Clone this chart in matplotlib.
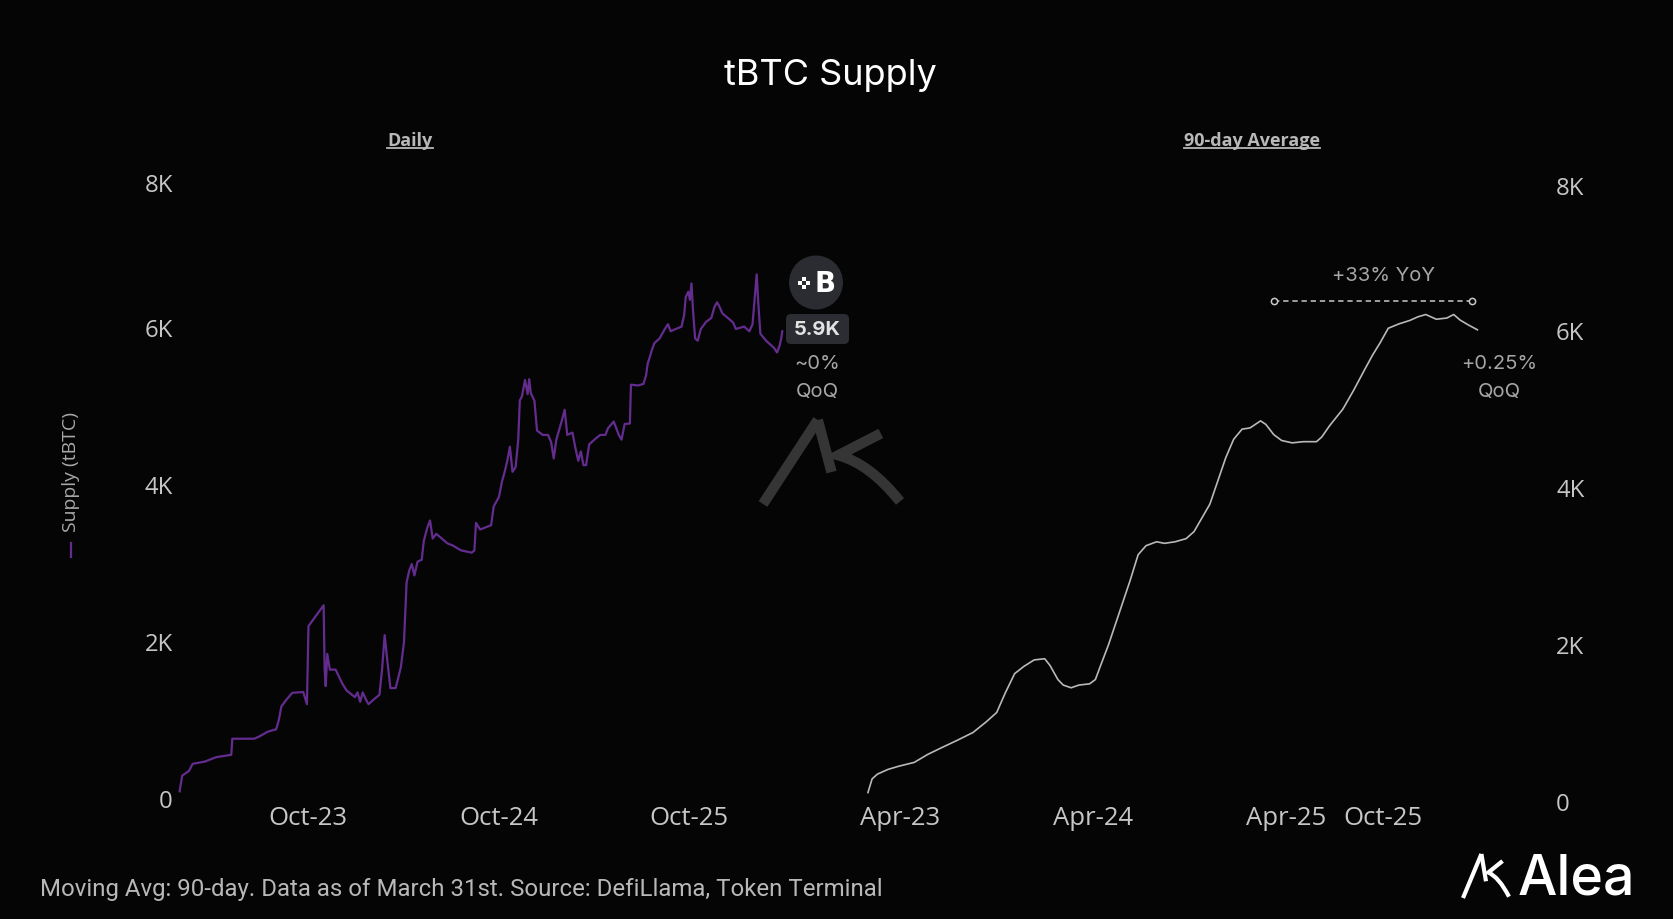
import matplotlib
matplotlib.use("Agg")
import matplotlib.pyplot as plt
from matplotlib.lines import Line2D
from matplotlib.patches import Circle, FancyBboxPatch, PathPatch, Rectangle
from matplotlib.path import Path
from matplotlib.transforms import IdentityTransform, ScaledTranslation
import pandas as pd

W, H, DPI = 1674, 920, 100
BG = "#050505"
PURPLE = "#632c8e"
GRAY_LINE = "#b9b9b9"
TICK = "#c6c6c6"
ANN = "#a6a6a6"

# ---------------- data ----------------
daily_dates = [
    "2023-01-29", "2023-02-03", "2023-02-16", "2023-02-23", "2023-03-19", "2023-04-09",
    "2023-05-08", "2023-05-10", "2023-06-21", "2023-07-01", "2023-07-17", "2023-08-02",
    "2023-08-07", "2023-08-12", "2023-08-22", "2023-09-02", "2023-09-23", "2023-09-30",
    "2023-10-03", "2023-10-19", "2023-11-01", "2023-11-03", "2023-11-05", "2023-11-08",
    "2023-11-13", "2023-11-24", "2023-12-07", "2023-12-15", "2023-12-31", "2024-01-05",
    "2024-01-10", "2024-01-15", "2024-01-21", "2024-01-26", "2024-02-05", "2024-02-16",
    "2024-02-21", "2024-02-26", "2024-03-02", "2024-03-08", "2024-03-18", "2024-03-28",
    "2024-04-03", "2024-04-08", "2024-04-13", "2024-04-18", "2024-04-23", "2024-04-29",
    "2024-05-07", "2024-05-11", "2024-05-18", "2024-05-23", "2024-05-28", "2024-06-04",
    "2024-06-25", "2024-07-06", "2024-07-21", "2024-08-11", "2024-08-16", "2024-08-19",
    "2024-08-27", "2024-09-17", "2024-09-22", "2024-10-02", "2024-10-08", "2024-10-13",
    "2024-10-18", "2024-10-23", "2024-10-28", "2024-11-03", "2024-11-08", "2024-11-11",
    "2024-11-15", "2024-11-21", "2024-11-26", "2024-11-29", "2024-12-02", "2024-12-09",
    "2024-12-14", "2024-12-25", "2025-01-04", "2025-01-10", "2025-01-15", "2025-01-20",
    "2025-01-25", "2025-01-30", "2025-02-05", "2025-02-10", "2025-02-20", "2025-02-25",
    "2025-03-03", "2025-03-08", "2025-03-13", "2025-03-18", "2025-03-24", "2025-04-03",
    "2025-04-14", "2025-04-24", "2025-04-29", "2025-05-10", "2025-05-20", "2025-05-25",
    "2025-05-31", "2025-06-10", "2025-06-12", "2025-06-26", "2025-07-06", "2025-07-11",
    "2025-07-14", "2025-07-18", "2025-07-22", "2025-07-27", "2025-08-06", "2025-08-16",
    "2025-08-22", "2025-08-27", "2025-09-06", "2025-09-17", "2025-09-22", "2025-09-25",
    "2025-09-30", "2025-10-03", "2025-10-06", "2025-10-09", "2025-10-13", "2025-10-18",
    "2025-10-24", "2025-11-03", "2025-11-13", "2025-11-19", "2025-11-24", "2025-11-29",
    "2025-12-04", "2025-12-20", "2025-12-25", "2025-12-30", "2026-01-15", "2026-01-25",
    "2026-01-31", "2026-02-05", "2026-02-08", "2026-02-11", "2026-02-15", "2026-02-26",
    "2026-03-08", "2026-03-13", "2026-03-19", "2026-03-24", "2026-03-27", "2026-03-29",
]
daily_supply = [
    80, 280, 340, 430, 460, 515,
    545, 750, 750, 780, 840, 870,
    985, 1160, 1250, 1335, 1345, 1190,
    2185, 2330, 2450, 1630, 1420, 1830,
    1630, 1630, 1450, 1365, 1280, 1340,
    1220, 1340, 1250, 1190, 1250, 1310,
    1630, 2070, 1750, 1395, 1395, 1660,
    1980, 2740, 2890, 2975, 2830, 3005,
    3030, 3270, 3445, 3530, 3300, 3360,
    3240, 3210, 3150, 3120, 3150, 3500,
    3415, 3470, 3710, 3830, 4030, 4150,
    4290, 4470, 4150, 4210, 4560, 5060,
    5110, 5320, 5140, 5330, 5155, 5056,
    4675, 4620, 4620, 4530, 4320, 4560,
    4675, 4790, 4940, 4620, 4650, 4470,
    4290, 4410, 4235, 4235, 4500, 4560,
    4620, 4620, 4705, 4790, 4615, 4560,
    4760, 4765, 5260, 5250, 5270, 5380,
    5525, 5610, 5700, 5790, 5850, 5970,
    6030, 5940, 5970, 6000, 6150, 6375,
    6445, 6340, 6550, 6200, 5850, 5820,
    5970, 6060, 6110, 6250, 6310, 6250,
    6170, 6080, 6050, 5970, 6000, 5940,
    6030, 6430, 6665, 6310, 5910, 5820,
    5760, 5730, 5670, 5760, 5850, 5940,
]

avg_dates = [
    "2023-01-30", "2023-02-07", "2023-02-17", "2023-03-09", "2023-03-29", "2023-04-28",
    "2023-05-23", "2023-06-18", "2023-07-18", "2023-08-17", "2023-09-11", "2023-10-01",
    "2023-10-17", "2023-11-04", "2023-11-21", "2023-12-11", "2023-12-31", "2024-01-10",
    "2024-01-25", "2024-02-04", "2024-02-19", "2024-03-05", "2024-03-25", "2024-04-05",
    "2024-04-15", "2024-04-30", "2024-05-13", "2024-05-25", "2024-06-10", "2024-06-25",
    "2024-07-10", "2024-07-30", "2024-08-14", "2024-09-03", "2024-09-24", "2024-10-09",
    "2024-10-24", "2024-11-08", "2024-11-23", "2024-12-08", "2024-12-23", "2025-01-08",
    "2025-01-23", "2025-02-12", "2025-02-22", "2025-03-09", "2025-03-24", "2025-04-13",
    "2025-05-04", "2025-05-29", "2025-06-08", "2025-06-23", "2025-07-18", "2025-08-07",
    "2025-08-28", "2025-09-12", "2025-09-27", "2025-10-12", "2025-11-01", "2025-11-22",
    "2025-12-07", "2025-12-22", "2026-01-11", "2026-01-31", "2026-02-13", "2026-02-25",
    "2026-03-12", "2026-03-30",
]
avg_supply = [
    105, 280, 340, 400, 440, 490,
    590, 675, 770, 870, 1005, 1125,
    1370, 1620, 1710, 1795, 1810, 1725,
    1545, 1475, 1440, 1475, 1490, 1545,
    1725, 1990, 2250, 2490, 2810, 3135,
    3250, 3300, 3280, 3300, 3340, 3430,
    3605, 3780, 4075, 4370, 4605, 4735,
    4750, 4840, 4795, 4665, 4590, 4560,
    4575, 4575, 4635, 4780, 4990, 5225,
    5490, 5675, 5840, 6020, 6075, 6120,
    6165, 6195, 6135, 6150, 6195, 6125,
    6065, 6000,
]

yoy_span = ["2025-03-10", "2026-03-20"]
yoy_level = 6370

left_ticks = ["2023-10-01", "2024-10-01", "2025-10-01"]
left_tick_labels = ["Oct-23", "Oct-24", "Oct-25"]
right_ticks = ["2023-04-01", "2024-04-01", "2025-04-01", "2025-10-01"]
right_tick_labels = ["Apr-23", "Apr-24", "Apr-25", "Oct-25"]
y_ticks = [0, 2000, 4000, 6000, 8000]
y_tick_labels = ["0", "2K", "4K", "6K", "8K"]

title = "tBTC Supply"
left_subtitle = "Daily"
right_subtitle = "90-day Average"
y_label = "Supply (tBTC)"
daily_badge = "5.9K"
daily_change = ["~0%", "QoQ"]
avg_change = ["+0.25%", "QoQ"]
yoy_text = "+33% YoY"
footer = "Moving Avg: 90-day. Data as of March 31st. Source: DefiLlama, Token Terminal"
brand = "Alea"

# ---------------- figure ----------------
plt.rcParams["font.family"] = ["Open Sans", "DejaVu Sans"]
fig = plt.figure(figsize=(W / DPI, H / DPI), dpi=DPI, facecolor=BG)
ID = IdentityTransform()


def add_axes_px(x0, y0, x1, y1):
    return fig.add_axes([x0 / W, 1 - y1 / H, (x1 - x0) / W, (y1 - y0) / H])


def ftext(x, y, s, **kw):
    return fig.text(x, H - y, s, transform=ID, **kw)


def style(ax):
    ax.set_facecolor("none")
    for s in ax.spines.values():
        s.set_visible(False)
    ax.tick_params(length=0, colors=TICK)
    ax.tick_params(axis="y", labelsize=17.2)
    ax.tick_params(axis="x", labelsize=18.5, pad=2)
    ax.set_yticks(y_ticks)
    ax.set_yticklabels(y_tick_labels)


# left (daily)
ax1 = add_axes_px(177, 160, 800, 803)
style(ax1)
ax1.plot(pd.to_datetime(daily_dates), daily_supply, color=PURPLE, lw=1.6,
         solid_joinstyle="round")
ax1.set_xlim(pd.Timestamp("2023-01-24"), pd.Timestamp("2026-05-02"))
ax1.set_ylim(-56, 8135)
ax1.set_xticks(pd.to_datetime(left_ticks))
ax1.set_xticklabels(left_tick_labels)
ax1.tick_params(axis="y", pad=3)

# right (90-day average)
ax2 = add_axes_px(860, 160, 1545, 803)
style(ax2)
ax2.plot(pd.to_datetime(avg_dates), avg_supply, color=GRAY_LINE, lw=1.2)
ax2.set_xlim(pd.Timestamp("2023-01-15"), pd.Timestamp("2026-08-05"))
ax2.set_ylim(-15, 8176)
ax2.set_xticks(pd.to_datetime(right_ticks))
ax2.set_xticklabels(right_tick_labels)
ax2.yaxis.tick_right()
ax2.tick_params(axis="y", pad=8, left=False, labelleft=False, right=False, labelright=True)

# top tick label sits a little lower in the reference
shift = ScaledTranslation(0, -12 / DPI, fig.dpi_scale_trans)
t1 = ax1.yaxis.get_major_ticks()[-1].label1
t1.set_transform(t1.get_transform() + shift)
t2 = ax2.yaxis.get_major_ticks()[-1].label2
t2.set_transform(t2.get_transform() + shift)

# YoY bracket
ax2.plot(pd.to_datetime(yoy_span), [yoy_level, yoy_level], color="#c8c8c8", lw=1.1,
         ls=(0, (3.5, 2.5)), marker="o", ms=4.5, mfc=BG, mec="#c8c8c8", mew=1.1)

# ---------------- texts ----------------
ftext(830, 76, title, ha="center", va="center", fontsize=26, color="white",
      family=["Inter", "DejaVu Sans"])

subs = []
for cx, s in [(410, left_subtitle), (1252, right_subtitle)]:
    t = ftext(cx, 146.5, s, ha="center", va="baseline", fontsize=13,
              fontweight="bold", color="#b8b8b8")
    subs.append(t)

ftext(71, 472, y_label, ha="center", va="center", rotation=90, fontsize=14,
      color="#a8a8a8")
fig.add_artist(Line2D([71, 71], [H - 544, H - 558], transform=ID, color=PURPLE, lw=1.6))

# badge
fig.add_artist(Circle((816, H - 283.5), 27, transform=ID, facecolor="#2b2c31",
                      edgecolor="none"))
ftext(825, 284, "B", ha="center", va="center", fontsize=20, fontweight="bold",
      color="white", family=["DejaVu Sans"])
for dx, dy in [(-4, 0), (4, 0), (0, -4), (0, 4)]:
    fig.add_artist(Rectangle((804 + dx - 1.6, H - (284 + dy) - 1.6), 3.2, 3.2,
                             transform=ID, facecolor="white", edgecolor="none"))
fig.add_artist(FancyBboxPatch((786, H - 345), 63, 30, transform=ID,
                              boxstyle="round,pad=0,rounding_size=5",
                              facecolor="#2b2d33", edgecolor="none"))
ftext(817.5, 330.5, daily_badge, ha="center", va="center", fontsize=14.5,
      fontweight="bold", color="#e2e2e2", family=["Inter", "DejaVu Sans"])
ftext(817, 364, daily_change[0], ha="center", va="center", fontsize=14.5, color=ANN,
      family=["Inter", "DejaVu Sans"])
ftext(817, 392, daily_change[1], ha="center", va="center", fontsize=14.5, color=ANN,
      family=["Inter", "DejaVu Sans"])

ftext(1383, 276, yoy_text, ha="center", va="center", fontsize=14.5, color=ANN,
      family=["Inter", "DejaVu Sans"])
ftext(1499, 364, avg_change[0], ha="center", va="center", fontsize=14.5, color=ANN,
      family=["Inter", "DejaVu Sans"])
ftext(1499, 392, avg_change[1], ha="center", va="center", fontsize=14.5, color=ANN,
      family=["Inter", "DejaVu Sans"])


# logo shape (normalized, y down)
def draw_logo(x0, y0, w, h, color, lw, alpha=1.0):
    def P(u, v):
        return (x0 + u * w, H - (y0 + v * h))
    kw = dict(transform=ID, color=color, lw=lw, solid_capstyle="butt", alpha=alpha)
    a = [P(0.0, 1.0), P(0.40, 0.0)]
    fig.add_artist(Line2D([p[0] for p in a], [p[1] for p in a], **kw))
    b = [P(0.40, 0.0), P(0.50, 0.62)]
    fig.add_artist(Line2D([p[0] for p in b], [p[1] for p in b], **kw))
    verts = [P(0.86, 0.16), P(0.55, 0.42), P(0.78, 0.52), P(1.0, 0.97)]
    codes = [Path.MOVETO, Path.LINETO, Path.CURVE3, Path.CURVE3]
    fig.add_artist(PathPatch(Path(verts, codes), transform=ID, facecolor="none",
                             edgecolor=color, lw=lw, alpha=alpha, capstyle="butt"))


draw_logo(763, 421, 137, 84, "#353535", 7.5)
draw_logo(1463, 855, 46, 44, "white", 3.0)
brand_t = ftext(1518, 895, brand, ha="left", va="baseline", fontsize=40,
                fontweight="medium", color="white", family=["Inter", "DejaVu Sans"])

foot = ftext(39.5, 890, footer, ha="left", va="center", fontsize=15, color="#b8b8b8",
             family=["Roboto", "DejaVu Sans"])

# fit footer width and draw underlines
fig.canvas.draw()
r = fig.canvas.get_renderer()
bb = foot.get_window_extent(r)
foot.set_fontsize(15 * 845.0 / bb.width)
for t in subs:
    e = t.get_window_extent(r)
    fig.add_artist(Line2D([e.x0, e.x1], [H - 148.5, H - 148.5], transform=ID,
                          color="#b8b8b8", lw=1.3))

fig.savefig("out.png", dpi=DPI, facecolor=BG)
